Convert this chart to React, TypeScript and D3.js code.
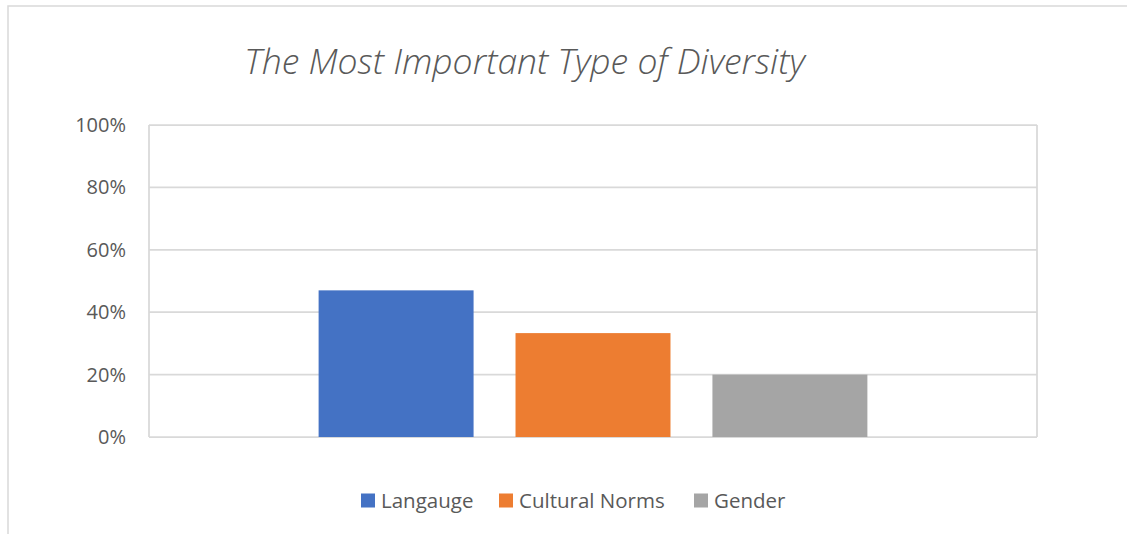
import React from "react";
import * as d3 from "d3";

const categories = ["Langauge", "Cultural Norms", "Gender"];
const values = [0.47, 0.333, 0.2];
const colors = ["#4472C4", "#ED7D31", "#A5A5A5"];
const yTicks = [0, 0.2, 0.4, 0.6, 0.8, 1.0];
const title = "The Most Important Type of Diversity";

export default function App() {
  const W = 1127, H = 534;
  const plot = { left: 149, right: 1037, top: 125, bottom: 437 };
  const y = d3.scaleLinear().domain([0, 1]).range([plot.bottom, plot.top]);
  const bandW = plot.right - plot.left;
  const inner = d3.scaleBand().domain(categories).range([plot.left + bandW * 0.191, plot.right - bandW * 0.191]).paddingInner(0.213).paddingOuter(0);
  const fmt = d3.format(".0%");
  const grey = "#595959";
  const lineC = "#D9D9D9";
  const legendX = [361, 499, 694];
  return (
    <svg width={W} height={H} style={{ position: "absolute", left: 0, top: 0 }} fontFamily="'Open Sans', sans-serif">
      <rect x={0} y={0} width={W} height={H} fill="#fff" />
      <rect x={8} y={6} width={W + 20} height={H + 20} fill="#fff" stroke={lineC} strokeWidth={1.5} />
      <text x={524.5} y={74} textAnchor="middle" fontSize={35.5} fontStyle="italic" fill={grey} fontWeight={300}>{title}</text>
      {yTicks.map((t) => (
        <g key={t}>
          <line x1={plot.left} x2={plot.right} y1={y(t)} y2={y(t)} stroke={lineC} strokeWidth={1.75} />
          <text x={126} y={y(t)} dy="0.35em" textAnchor="end" fontSize={20} fill={grey}>{fmt(t)}</text>
        </g>
      ))}
      <line x1={plot.left} x2={plot.left} y1={plot.top} y2={plot.bottom} stroke={lineC} strokeWidth={1.75} />
      <line x1={plot.right} x2={plot.right} y1={plot.top} y2={plot.bottom} stroke={lineC} strokeWidth={1.75} />
      {categories.map((c, i) => (
        <rect key={c} x={inner(c)} y={y(values[i])} width={inner.bandwidth()} height={plot.bottom - y(values[i])} fill={colors[i]} />
      ))}
      {categories.map((c, i) => (
        <g key={c} transform={`translate(${legendX[i]},500.5)`}>
          <rect x={0} y={-7} width={14} height={14} fill={colors[i]} />
          <text x={20} y={0} dy="0.35em" fontSize={20.5} fill={grey}>{c}</text>
        </g>
      ))}
    </svg>
  );
}
